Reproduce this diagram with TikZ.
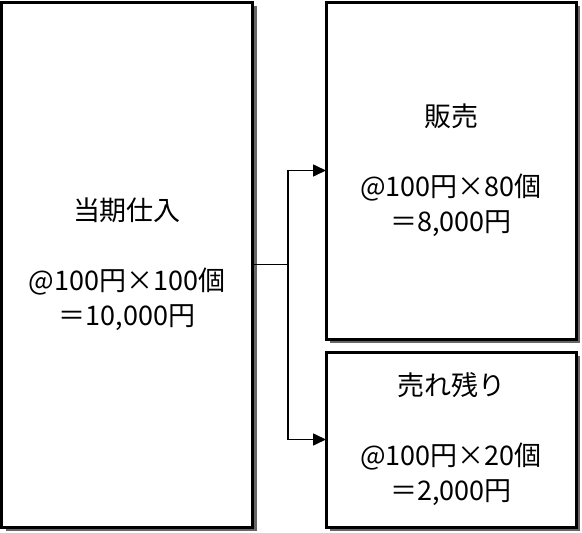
\documentclass[tikz,border=0pt]{standalone}
\usepackage{fontspec}
\setmainfont{Noto Sans CJK JP}
\usetikzlibrary{arrows.meta,shadows}
\tikzset{
	box/.style={draw=black, line width=3pt, fill=white, inner sep=0pt, outer sep=0pt,
		align=center, font=\fontsize{27pt}{35pt}\selectfont,
		drop shadow={shadow xshift=4pt, shadow yshift=-4pt, fill=black!60, opacity=1}},
	link/.style={line width=1.6pt, -{Triangle[length=13pt,width=12pt]}}
}

\begin{document}
\begin{tikzpicture}[x=1pt, y=-1pt]
	%%%%% START %%%%%
	\useasboundingbox (0,0) rectangle (582,533);
	
	\node[box, minimum width=251pt, minimum height=525pt] (buy) at (127,264.5)
		{当期仕入\\ \\@100円×100個\\＝10,000円};
	\node[box, minimum width=250pt, minimum height=337pt] (sold) at (451,170.5)
		{販売\\ \\@100円×80個\\＝8,000円};
	\node[box, minimum width=250pt, minimum height=175pt] (left) at (451,439.5)
		{売れ残り\\ \\@100円×20個\\＝2,000円};
	
	\coordinate (fork) at (288,264.5);
	\draw[line width=1.6pt] (buy.east) -- (fork);
	\draw[link] (fork) |- (sold.west);
	\draw[link] (fork) |- (left.west);
	
	%%%%% END %%%%%
\end{tikzpicture}
\end{document}
